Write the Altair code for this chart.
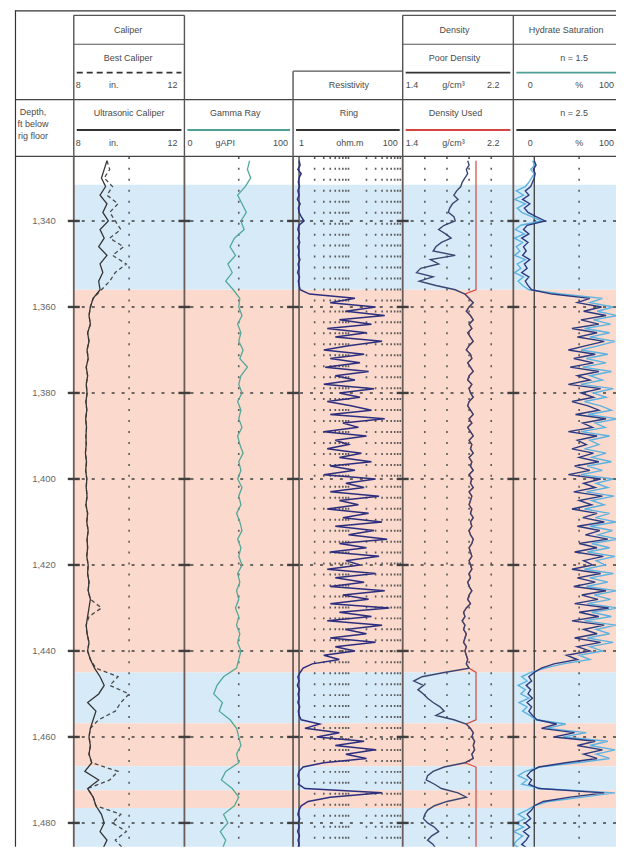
import altair as alt
import pandas as pd

FONT = "Liberation Sans Narrow, Liberation Sans, Arial, sans-serif"

# ---------------- data ----------------
DEPTH_TICKS = [1340, 1360, 1380, 1400, 1420, 1440, 1460, 1480]
DEPTH_TOP = 1325.1
PX_PER_FT = 4.314

ZONE_TOP = [1331.6, 1356.0, 1445.0, 1456.8, 1466.8, 1472.4, 1476.5]
ZONE_BOTTOM = [1356.0, 1445.0, 1456.8, 1466.8, 1472.4, 1476.5, 1487.4]
ZONE_KIND = ["water", "hydrate", "water", "hydrate", "water", "hydrate", "water"]

# caliper / gamma ray sampled every 2 ft from 1326 ft
CAL_DEPTH0, CAL_STEP = 1326, 2
ULTRASONIC_CAL = [
    9.2, 9.1, 9.0, 9.15, 8.95, 9.2, 9.05, 9.25, 8.95, 9.1,
    8.9, 9.2, 8.95, 9.05, 8.9, 8.95, 8.7, 8.6, 8.55, 8.6,
    8.5, 8.55, 8.48, 8.52, 8.45, 8.5, 8.45, 8.48, 8.44, 8.47,
    8.43, 8.46, 8.44, 8.45, 8.42, 8.46, 8.43, 8.47, 8.45, 8.48,
    8.44, 8.5, 8.47, 8.52, 8.48, 8.5, 8.47, 8.52, 8.5, 8.55,
    8.52, 8.6, 8.55, 8.5, 8.45, 8.48, 8.55, 8.5, 8.6, 8.75,
    8.95, 9.1, 8.9, 8.5, 8.8, 8.7, 8.6, 8.55, 8.6, 8.55,
    8.65, 8.4, 8.9, 8.5, 8.7, 8.8, 9.0, 9.1, 8.95, 9.2,
    9.05]
BEST_CAL = [
    9.2, 9.3, 9.1, 9.4, 9.2, 9.6, 9.3, 9.5, 9.7, 9.3,
    9.8, 9.4, 9.9, 9.5, 9.3, 9.0, 8.7, 8.6, 8.55, 8.6,
    8.5, 8.55, 8.48, 8.52, 8.45, 8.5, 8.45, 8.48, 8.44, 8.47,
    8.43, 8.46, 8.44, 8.45, 8.42, 8.46, 8.43, 8.47, 8.45, 8.48,
    8.44, 8.5, 8.47, 8.52, 8.48, 8.5, 8.47, 8.52, 8.5, 8.55,
    8.52, 8.6, 9.0, 8.55, 8.45, 8.48, 8.55, 8.5, 8.6, 8.8,
    9.6, 9.3, 10.0, 9.7, 9.5, 8.9, 8.6, 8.55, 8.6, 8.55,
    8.65, 9.6, 9.3, 8.5, 8.7, 8.8, 9.7, 9.4, 9.9, 9.5,
    9.8]
GAMMA_RAY = [
    60, 58, 61, 56, 49, 53, 57, 52, 55, 46,
    42, 47, 40, 44, 38, 45, 51, 50, 53, 49,
    52, 50, 54, 51, 58, 52, 50, 53, 49, 52,
    50, 53, 49, 51, 54, 50, 52, 49, 53, 50,
    52, 48, 51, 53, 49, 52, 50, 53, 49, 51,
    48, 50, 47, 50, 48, 51, 49, 52, 50, 48,
    36, 30, 27, 35, 32, 42, 48, 50, 52, 48,
    50, 38, 34, 44, 50, 46, 36, 40, 33, 38,
    35]

# resistivity, density, saturation sampled every 1 ft from 1326 ft
LOG_DEPTH0, LOG_STEP = 1326, 1
RING_RES = [
    1.0, 1.05, 0.95, 1.1, 1.0, 0.97, 1.02, 0.95, 1.0, 0.93,
    1.05, 0.97, 1.0, 1.1, 1.25, 1.0, 0.95, 1.02, 0.96, 1.03,
    0.95, 1.0, 0.97, 1.04, 0.96, 1.0, 0.94, 1.02, 0.97, 1.0,
    1.05, 1.6, 12, 4, 30, 8, 45, 6, 25, 3.5,
    20, 5, 40, 9, 3, 18, 4, 15, 3.2, 22,
    5, 12, 3, 28, 6, 15, 3.5, 10, 25, 4,
    45, 7, 14, 3, 20, 5, 9, 3.5, 16, 6,
    25, 4, 12, 3, 30, 8, 18, 4, 35, 6,
    14, 3.5, 22, 7, 40, 5, 28, 9, 50, 6,
    20, 4, 35, 8, 15, 3.5, 30, 5, 18, 4,
    45, 7, 22, 4, 55, 6, 25, 3.5, 40, 8,
    20, 4, 30, 5, 12, 3, 6, 1.8, 1.2, 1.05,
    0.95, 1.0, 0.93, 1.02, 0.96, 1.0, 0.95, 1.03, 0.97, 1.0,
    1.1, 2.5, 1.3, 6, 2.2, 18, 5, 30, 8, 20,
    3, 1.2, 1.0, 0.95, 1.02, 0.97, 1.3, 40, 4, 1.5,
    1.1, 1.0, 0.95, 1.03, 0.97, 1.0, 0.94, 1.02, 0.96, 1.0,
    0.95, 1.02]
POOR_DENSITY = [
    1.87, 1.88, 1.86, 1.87, 1.85, 1.83, 1.82, 1.79, 1.77, 1.80,
    1.76, 1.74, 1.73, 1.77, 1.78, 1.70, 1.66, 1.71, 1.75, 1.68,
    1.64, 1.62, 1.78, 1.60, 1.66, 1.53, 1.50, 1.62, 1.52, 1.64,
    1.78, 1.85, 1.88, 1.91, 1.88, 1.86, 1.89, 1.91, 1.88, 1.90,
    1.87, 1.89, 1.91, 1.88, 1.86, 1.89, 1.90, 1.87, 1.89, 1.91,
    1.88, 1.87, 1.90, 1.88, 1.89, 1.91, 1.88, 1.87, 1.89, 1.91,
    1.88, 1.90, 1.87, 1.89, 1.91, 1.88, 1.90, 1.89, 1.91, 1.88,
    1.90, 1.89, 1.91, 1.88, 1.90, 1.89, 1.91, 1.88, 1.90, 1.89,
    1.88, 1.90, 1.89, 1.91, 1.89, 1.90, 1.88, 1.89, 1.91, 1.90,
    1.88, 1.89, 1.90, 1.88, 1.89, 1.90, 1.88, 1.89, 1.87, 1.88,
    1.90, 1.88, 1.87, 1.89, 1.86, 1.84, 1.85, 1.83, 1.85, 1.84,
    1.86, 1.85, 1.84, 1.86, 1.85, 1.86, 1.87, 1.86, 1.88, 1.70,
    1.54, 1.48, 1.55, 1.51, 1.55, 1.58, 1.62, 1.67, 1.70, 1.64,
    1.77, 1.86, 1.89, 1.91, 1.90, 1.92, 1.91, 1.92, 1.90, 1.91,
    1.85, 1.70, 1.62, 1.58, 1.57, 1.63, 1.68, 1.80, 1.86, 1.72,
    1.63, 1.58, 1.56, 1.55, 1.58, 1.63, 1.66, 1.61, 1.58, 1.62,
    1.64, 1.61]
USED_DENSITY_WASHOUT = 1.93
WASHOUT_ZONES = [(1326, 1356), (1445, 1456), (1467, 1487)]
SH_N15 = [
    -2, 1, -4, 0, -3, -6, -10, -20, -12, -22,
    -10, -19, -14, -3, 8, -15, -21, -11, -22, -13,
    -20, -16, -22, -10, -19, -15, -22, -12, -18, -13,
    -6, 30, 76, 62, 88, 70, 92, 66, 85, 56,
    84, 62, 90, 72, 52, 82, 58, 80, 54, 86,
    62, 76, 52, 88, 66, 80, 56, 74, 86, 60,
    92, 68, 79, 52, 84, 62, 72, 56, 80, 64,
    86, 59, 76, 52, 88, 69, 82, 58, 89, 64,
    78, 56, 84, 68, 91, 62, 87, 71, 93, 64,
    84, 59, 90, 69, 79, 56, 88, 62, 82, 58,
    92, 67, 85, 59, 94, 64, 86, 56, 91, 69,
    84, 59, 88, 62, 76, 50, 62, 32, 12, -4,
    -14, -8, -18, -10, -15, -6, -17, -8, -13, -5,
    2, 35, 14, 58, 32, 82, 62, 90, 69, 84,
    48, 6, -10, -18, -8, -14, 8, 90, 54, 16,
    0, -8, -18, -10, -21, -12, -23, -13, -19, -23,
    -15, -20]
SH_N25 = [
    0, 2, -1, 1, 0, -2, -4, -10, -6, -13,
    -5, -11, -7, 2, 12, -8, -12, -6, -14, -7,
    -12, -9, -13, -5, -11, -8, -14, -6, -10, -7,
    -3, 20, 62, 48, 75, 55, 80, 52, 72, 42,
    70, 48, 78, 58, 38, 68, 44, 66, 40, 72,
    48, 62, 38, 74, 52, 66, 42, 60, 72, 46,
    80, 54, 65, 38, 70, 48, 58, 42, 66, 50,
    72, 45, 62, 38, 74, 55, 68, 44, 76, 50,
    64, 42, 70, 54, 78, 48, 73, 57, 82, 50,
    70, 45, 77, 55, 65, 42, 74, 48, 68, 44,
    80, 53, 71, 45, 83, 50, 72, 42, 78, 55,
    70, 45, 74, 48, 62, 36, 48, 22, 8, 0,
    -6, -3, -9, -4, -7, -2, -8, -3, -6, -2,
    3, 25, 8, 45, 22, 68, 48, 76, 55, 70,
    35, 5, -4, -8, -3, -6, 5, 78, 40, 10,
    0, -3, -8, -4, -10, -5, -12, -6, -9, -14,
    -7, -10]

# track scale settings
CAL_DOMAIN = [8, 12]
GR_DOMAIN = [0, 100]
RES_DOMAIN = [0.767, 100]
DEN_DOMAIN = [1.4, 2.2]
HYD_DOMAIN = [-23.33, 91.11]
CAL_GRID = [10]
GR_GRID = [50]
RES_GRID = [2, 3, 4, 5, 6, 7, 8, 9, 20, 30, 40, 50, 60, 70, 80, 90]
DEN_GRID = [1.56, 1.72, 1.88, 2.04]
HYD_GRID = [50]

# ---------------- style ----------------
H = 692
HEADER_H = 147
DEPTH_BOTTOM = DEPTH_TOP + H / PX_PER_FT
BLUE, PINK = "#d7eaf8", "#fbd9cc"
BORDER = "#6a5d59"
GRID = "#5a5a5a"
DLINE = "#3f3f3f"
TEAL = "#4e9f95"
TXT = "#4a4a4a"

YSC = alt.Scale(domain=[DEPTH_TOP, DEPTH_BOTTOM], reverse=True, nice=False, zero=False)


def series_df(start, step, values):
    return pd.DataFrame({"depth": [start + i * step for i in range(len(values))], "v": values})


def used_density():
    rows = []
    for i, v in enumerate(POOR_DENSITY):
        d = LOG_DEPTH0 + i * LOG_STEP
        washed = any(a <= d <= b for a, b in WASHOUT_ZONES)
        rows.append({"depth": d, "v": USED_DENSITY_WASHOUT if washed else v})
    return pd.DataFrame(rows)


one = alt.Data(values=[{"k": 1}])
bands_df = pd.DataFrame({"top": ZONE_TOP, "bottom": ZONE_BOTTOM, "kind": ZONE_KIND})
depth_df = pd.DataFrame({"d": DEPTH_TICKS, "label": [f"{d:,}" for d in DEPTH_TICKS]})


def track(width, xscale, grid, curves, baseline=None):
    layers = [
        alt.Chart(bands_df).mark_rect(clip=True).encode(
            x=alt.value(0), x2=alt.value(width),
            y=alt.Y("top:Q", scale=YSC, axis=None), y2="bottom:Q",
            color=alt.Color("kind:N", scale=alt.Scale(domain=["water", "hydrate"], range=[BLUE, PINK]), legend=None)),
        alt.Chart(pd.DataFrame({"g": grid})).mark_rule(color=GRID, strokeWidth=1.6, strokeDash=[2, 9]).encode(
            x=alt.X("g:Q", scale=xscale, axis=None)),
        alt.Chart(depth_df).mark_rule(color=DLINE, strokeWidth=1.6, strokeDash=[3, 7]).encode(
            y=alt.Y("d:Q", scale=YSC, axis=None)),
    ]
    if baseline is not None:
        layers.append(alt.Chart(pd.DataFrame({"b": [baseline]})).mark_rule(color="#3a3a3a", strokeWidth=1.3).encode(
            x=alt.X("b:Q", scale=xscale, axis=None)))
    for df, color, sw, dash in curves:
        kw = dict(color=color, strokeWidth=sw, clip=True)
        if dash:
            kw["strokeDash"] = dash
        layers.append(alt.Chart(df).mark_line(**kw).encode(
            x=alt.X("v:Q", scale=xscale, axis=None),
            y=alt.Y("depth:Q", scale=YSC, axis=None),
            order="depth:Q"))
    layers += [
        alt.Chart(one).mark_rule(color=BORDER, strokeWidth=1.8).encode(
            x=alt.value(0), y=alt.value(0), y2=alt.value(H)),
        alt.Chart(depth_df).mark_rule(color=DLINE, strokeWidth=2.4).encode(
            x=alt.value(-6), x2=alt.value(6), y=alt.Y("d:Q", scale=YSC, axis=None)),
    ]
    return alt.layer(*layers).properties(width=width, height=H)


cal = track(111, alt.Scale(domain=CAL_DOMAIN, nice=False, zero=False), CAL_GRID, [
    (series_df(CAL_DEPTH0, CAL_STEP, BEST_CAL), "#4a4a4a", 1.3, [4, 3]),
    (series_df(CAL_DEPTH0, CAL_STEP, ULTRASONIC_CAL), "#353535", 1.3, None),
])
gr = track(109, alt.Scale(domain=GR_DOMAIN, nice=False, zero=False), GR_GRID, [
    (series_df(CAL_DEPTH0, CAL_STEP, GAMMA_RAY), "#52a99a", 1.3, None),
])
res = track(110, alt.Scale(type="log", domain=RES_DOMAIN, nice=False), RES_GRID, [
    (series_df(LOG_DEPTH0, LOG_STEP, RING_RES), "#2d2f7e", 1.5, None),
], baseline=1)
den = track(111, alt.Scale(domain=DEN_DOMAIN, nice=False, zero=False), DEN_GRID, [
    (used_density(), "#d4463f", 1.2, None),
    (series_df(LOG_DEPTH0, LOG_STEP, POOR_DENSITY), "#3a4670", 1.4, None),
])
hyd = track(103, alt.Scale(domain=HYD_DOMAIN, nice=False, zero=False), HYD_GRID, [
    (series_df(LOG_DEPTH0, LOG_STEP, SH_N15), "#5cb3e0", 1.4, None),
    (series_df(LOG_DEPTH0, LOG_STEP, SH_N25), "#2c3a80", 1.4, None),
], baseline=0)

depth_panel = alt.layer(
    alt.Chart(depth_df).mark_text(align="right", baseline="middle", font=FONT, fontSize=9.5, color="#666").encode(
        x=alt.value(41), y=alt.Y("d:Q", scale=YSC, axis=None), text="label:N"),
    alt.Chart(one).mark_rule(color="#333", strokeWidth=1.2).encode(
        x=alt.value(0.5), y=alt.value(0), y2=alt.value(H)),
).properties(width=59, height=H)

# ---------------- header (pixel layout) ----------------
HDR_RULES = [
    # horizontals
    (0, 603, 0.5, 0.5, "#333", 1.2),
    (59, 170, 5, 5, "#555", 1.4), (389, 603, 5, 5, "#555", 1.4),
    (59, 170, 34, 34, "#555", 1.2), (389, 603, 34, 34, "#555", 1.2),
    (279, 389, 61, 61, "#555", 1.4),
    (0, 603, 89.5, 89.5, "#444", 1.4),
    (0, 603, 146.5, 146.5, "#444", 1.4),
    (392, 497, 62.5, 62.5, "#333", 1.8), (503, 603, 62.5, 62.5, TEAL, 1.8),
    (62, 167, 120, 120, "#333", 1.8), (173, 276, 120, 120, TEAL, 1.8),
    (282, 386, 120, 120, "#333", 1.8), (392, 497, 120, 120, "#d4463f", 1.8),
    (503, 603, 120, 120, "#333", 1.8),
    # verticals
    (0.5, 0.5, 0, 147, "#333", 1.2),
    (59, 59, 5, 147, "#555", 1.4), (170, 170, 5, 147, "#555", 1.4),
    (279, 279, 61, 147, "#555", 1.4), (389, 389, 5, 147, "#555", 1.4),
    (500, 500, 5, 147, "#555", 1.4),
]
HDR_DASHED = [(62, 167, 62.5, 62.5, "#333", 1.8)]
HDR_CENTER = [
    ("Caliper", 113.5, 20), ("Best Caliper", 113.5, 48), ("in.", 99, 75),
    ("Density", 441, 20), ("Poor Density", 441, 48), ("g/cm³", 440, 75),
    ("Hydrate Saturation", 553, 20), ("n = 1.5", 561, 48), ("0", 517, 75), ("%", 566, 75),
    ("Resistivity", 335, 75),
    ("Ultrasonic Caliper", 114.5, 103), ("in.", 99, 133),
    ("Gamma Ray", 221, 103), ("gAPI", 211, 133),
    ("Ring", 335, 103), ("ohm.m", 336, 133),
    ("Density Used", 442, 103), ("g/cm³", 440, 133),
    ("n = 2.5", 561, 103), ("0", 517, 133), ("%", 566, 133),
    ("Depth,", 18, 102), ("ft below", 18, 114), ("rig floor", 18, 126),
]
HDR_LEFT = [
    ("8", 61, 75), ("8", 61, 133), ("0", 173, 133), ("1", 285, 133),
    ("1.4", 392, 75), ("1.4", 392, 133),
]
HDR_RIGHT = [
    ("12", 163, 75), ("12", 163, 133), ("100", 274, 133), ("100", 384, 133),
    ("2.2", 486, 75), ("2.2", 486, 133), ("100", 601, 75), ("100", 601, 133),
]


def rules_df(rows):
    return pd.DataFrame(rows, columns=["x", "x2", "y", "y2", "c", "w"])


def text_df(rows):
    return pd.DataFrame(rows, columns=["t", "x", "y"])


def rule_layer(df, dash=None):
    kw = {"strokeDash": dash} if dash else {}
    return alt.Chart(df).mark_rule(**kw).encode(
        x=alt.X("x:Q", scale=None, axis=None), x2="x2:Q",
        y=alt.Y("y:Q", scale=None, axis=None), y2="y2:Q",
        color=alt.Color("c:N", scale=None), strokeWidth=alt.StrokeWidth("w:Q", scale=None))


def text_layer(df, align):
    return alt.Chart(df).mark_text(align=align, baseline="middle", font=FONT, fontSize=9,
                                   color=TXT).encode(
        x=alt.X("x:Q", scale=None, axis=None), y=alt.Y("y:Q", scale=None, axis=None), text="t:N")


header = alt.layer(
    rule_layer(rules_df(HDR_RULES)),
    rule_layer(rules_df(HDR_DASHED), dash=[6, 4]),
    text_layer(text_df(HDR_CENTER), "center"),
    text_layer(text_df(HDR_LEFT), "left"),
    text_layer(text_df(HDR_RIGHT), "right"),
).properties(width=603, height=HEADER_H)

data_row = alt.hconcat(depth_panel, cal, gr, res, den, hyd, spacing=0, bounds="flush").resolve_scale(x="independent")

chart = alt.vconcat(header, data_row, spacing=0, bounds="flush").resolve_scale(x="independent").properties(
    padding={"left": 6, "top": 0, "right": 0, "bottom": 0}, background="white"
).configure_view(stroke=None)

chart.save("out.html", embed_options={"renderer": "svg", "actions": False})
